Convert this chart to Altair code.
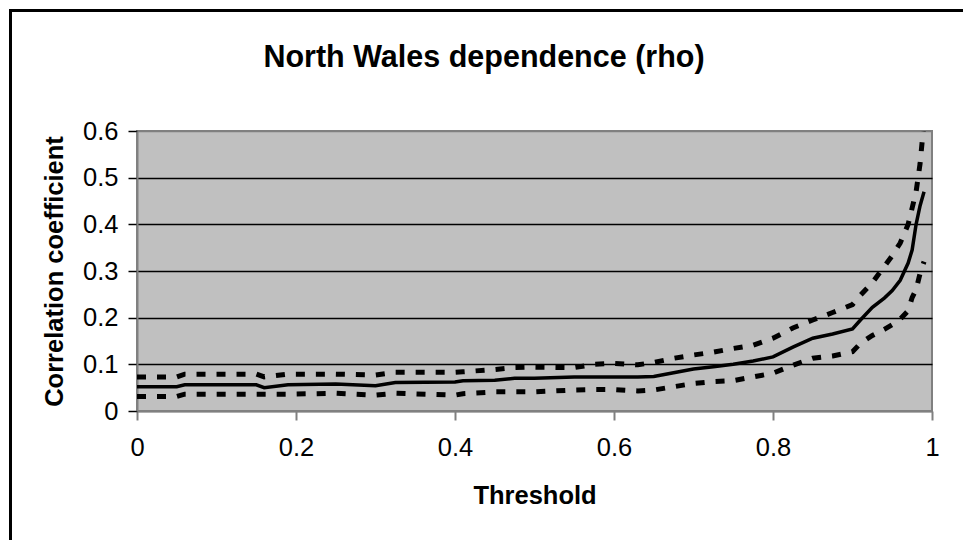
import altair as alt
import pandas as pd

# ---- data ----
threshold = [0, 0.05, 0.06, 0.10, 0.15, 0.16, 0.19, 0.25, 0.30, 0.325,
             0.40, 0.41, 0.45, 0.475, 0.50, 0.55, 0.575, 0.60, 0.63, 0.65,
             0.675, 0.70, 0.725, 0.75, 0.775, 0.80, 0.825, 0.85, 0.875, 0.90,
             0.91, 0.925, 0.94, 0.95, 0.96, 0.97, 0.975, 0.98, 0.985, 0.99]
rho = [0.052, 0.052, 0.056, 0.056, 0.056, 0.050, 0.056, 0.058, 0.054, 0.061,
       0.062, 0.065, 0.066, 0.070, 0.070, 0.073, 0.073, 0.073, 0.073, 0.074,
       0.082, 0.090, 0.095, 0.100, 0.107, 0.116, 0.137, 0.156, 0.165, 0.176,
       0.195, 0.222, 0.242, 0.258, 0.280, 0.317, 0.345, 0.400, 0.440, 0.470]
upper = [0.073, 0.073, 0.079, 0.079, 0.079, 0.073, 0.079, 0.079, 0.077, 0.083,
         0.083, 0.084, 0.089, 0.093, 0.094, 0.093, 0.100, 0.102, 0.099, 0.104,
         0.113, 0.120, 0.126, 0.134, 0.141, 0.156, 0.178, 0.195, 0.211, 0.228,
         0.248, 0.275, 0.310, 0.333, 0.360, 0.400, 0.435, 0.470, 0.530, 0.620]
lower = [0.031, 0.031, 0.036, 0.036, 0.036, 0.036, 0.036, 0.038, 0.034, 0.038,
         0.034, 0.037, 0.041, 0.041, 0.041, 0.045, 0.046, 0.046, 0.043, 0.045,
         0.052, 0.059, 0.063, 0.065, 0.073, 0.081, 0.098, 0.113, 0.118, 0.127,
         0.145, 0.162, 0.175, 0.185, 0.197, 0.215, 0.243, 0.260, 0.295, 0.320]

title_text = ["North Wales dependence (rho)"]
x_ticks = [0, 0.2, 0.4, 0.6, 0.8, 1.0]
y_ticks = [0, 0.1, 0.2, 0.3, 0.4, 0.5, 0.6]

df = pd.DataFrame({"threshold": threshold, "rho": rho, "upper": upper, "lower": lower})
tdf = pd.DataFrame({"t": title_text})

FONT = "Liberation Sans"
W, H = 795, 280

xscale = alt.Scale(domain=[0, 1], nice=False, zero=False)
yscale = alt.Scale(domain=[0, 0.6], nice=False)

xaxis = alt.Axis(
    values=x_ticks, labelExpr="format(datum.value, '~g')",
    title="Threshold", titleFont=FONT, titleFontSize=25.5, titleFontWeight="bold",
    titleColor="black", titleX=W / 2, titleY=92, titleBaseline="alphabetic",
    titleAlign="center",
    labelFont=FONT, labelFontSize=25.5, labelColor="black", labelPadding=15,
    tickSize=9, tickColor="#808080", tickWidth=2, domainColor="#808080",
    domainWidth=2, grid=False, labelFlush=False, labelOverlap=False,
)
yaxis = alt.Axis(
    values=y_ticks, labelExpr="datum.value == 0 ? '0' : format(datum.value, '.1f')",
    title="Correlation coefficient", titleFont=FONT, titleFontSize=25.5,
    titleFontWeight="bold", titleColor="black", titleX=-75, titleY=H / 2,
    titleAngle=-90, titleBaseline="alphabetic", titleAlign="center",
    labelFont=FONT, labelFontSize=25.5, labelColor="black", labelPadding=10,
    tickSize=9, tickColor="black", tickWidth=1.5, domainColor="#808080",
    domainWidth=2, grid=True,
    gridColor={"condition": {"test": "datum.value > 0.55 || datum.value < 0.05",
                             "value": "#808080"}, "value": "black"},
    gridWidth=1.3,
    labelFlush=False, labelOverlap=False,
)

base = alt.Chart(df)

mid_line = base.mark_line(color="black", strokeWidth=3.5, clip=True).encode(
    x=alt.X("threshold:Q", scale=xscale, axis=xaxis),
    y=alt.Y("rho:Q", scale=yscale, axis=yaxis),
)
up_line = base.mark_line(color="black", strokeWidth=5, strokeDash=[9, 11],
                         strokeCap="butt", clip=True).encode(
    x=alt.X("threshold:Q", scale=xscale),
    y=alt.Y("upper:Q", scale=yscale),
)
low_line = base.mark_line(color="black", strokeWidth=5, strokeDash=[9, 11],
                          strokeCap="butt", clip=True).encode(
    x=alt.X("threshold:Q", scale=xscale),
    y=alt.Y("lower:Q", scale=yscale),
)

title_mark = alt.Chart(tdf).mark_text(
    font=FONT, fontSize=30.5, fontWeight="bold", color="black",
    align="center", baseline="alphabetic",
).encode(x=alt.value(484 - 137), y=alt.value(67 - 131), text="t:N")

border = alt.Chart(tdf).mark_rect(
    fill=None, stroke="black", strokeWidth=3, clip=False
).encode(
    x=alt.value(10.5 - 137), x2=alt.value(975 - 137),
    y=alt.value(10.5 - 131), y2=alt.value(550 - 131),
)

chart = alt.layer(low_line, up_line, mid_line, title_mark, border).properties(
    width=W, height=H,
    autosize=alt.AutoSizeParams(type="none"),
    padding={"left": 137, "top": 131, "right": 963 - 137 - W, "bottom": 540 - 131 - H},
    background="white",
).configure_view(
    fill="#C0C0C0", stroke="#808080", strokeWidth=2,
)

chart.save("out.html", embed_options={"renderer": "svg", "actions": False})
